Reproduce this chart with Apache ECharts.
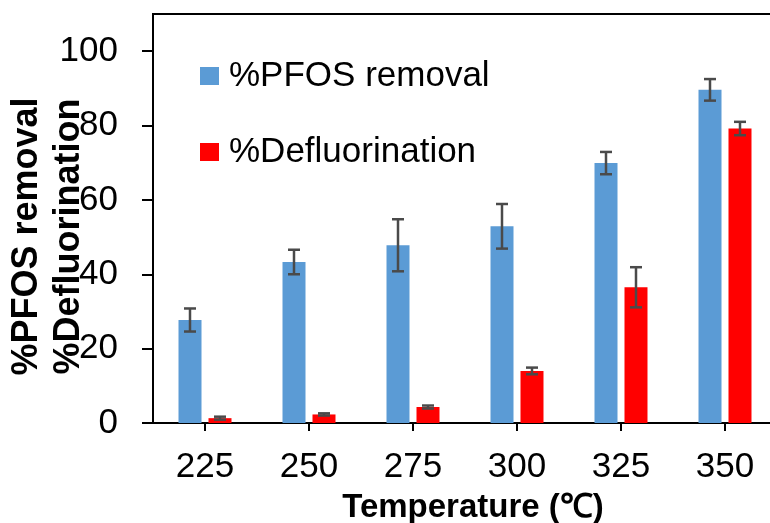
<!DOCTYPE html>
<html>
<head>
<meta charset="utf-8">
<script src="https://cdn.jsdelivr.net/npm/echarts@6/dist/echarts.min.js"></script>
<style>
  html, body { margin: 0; padding: 0; background: #fff; }
  #chart { width: 770px; height: 523px; }
</style>
</head>
<body>
<div id="chart"></div>
<script>
// Reaction temperatures (°C)
const temperatures = ['225', '250', '275', '300', '325', '350'];

// %PFOS removal: mean and standard deviation
const pfosRemoval = [27.7, 43.3, 47.8, 52.9, 69.9, 89.6];
const pfosRemovalErr = [3.1, 3.3, 7.0, 6.0, 3.0, 2.9];

// %Defluorination: mean and standard deviation
const defluorination = [1.3, 2.3, 4.3, 14.0, 36.5, 79.2];
const defluorinationErr = [0.4, 0.3, 0.4, 0.9, 5.4, 1.8];

// Y axis tick values
const yTicks = [0, 20, 40, 60, 80, 100];

const BAR_W = 23;
const BAR_GAP = 7;
const FONT = '"Liberation Sans", Arial, sans-serif';

function errorData(mean, err) {
  return mean.map((m, i) => [i, m - err[i], m + err[i]]);
}

function errorBarSeries(name, data, side) {
  return {
    type: 'custom',
    name: name,
    data: data,
    z: 10,
    silent: true,
    renderItem: function (params, api) {
      const idx = api.value(0);
      const lo = api.coord([idx, api.value(1)]);
      const hi = api.coord([idx, api.value(2)]);
      const x = lo[0] + side * (BAR_W + BAR_GAP) / 2;
      const cap = 6;
      const style = { stroke: '#4a4a4a', lineWidth: 2.5 };
      return {
        type: 'group',
        children: [
          { type: 'line', shape: { x1: x, y1: hi[1], x2: x, y2: lo[1] }, style: style },
          { type: 'line', shape: { x1: x - cap, y1: hi[1], x2: x + cap, y2: hi[1] }, style: style },
          { type: 'line', shape: { x1: x - cap, y1: lo[1], x2: x + cap, y2: lo[1] }, style: style }
        ]
      };
    }
  };
}

const chart = echarts.init(document.getElementById('chart'), null, { renderer: 'canvas' });

chart.setOption({
  animation: false,
  backgroundColor: '#ffffff',
  textStyle: { fontFamily: FONT },
  grid: {
    left: 153, top: 14, right: -7, bottom: 100,
    containLabel: false,
    outerBoundsMode: 'none',
    show: true, borderColor: '#000', borderWidth: 2, backgroundColor: 'transparent'
  },
  legend: {
    orient: 'vertical',
    left: 200,
    top: 56,
    padding: 0,
    itemWidth: 19,
    itemHeight: 18,
    itemGap: 36,
    icon: 'rect',
    textStyle: { fontSize: 35, color: '#000', fontFamily: FONT, lineHeight: 40, padding: [0, 0, 0, 5] },
    data: ['%PFOS removal', '%Defluorination']
  },
  xAxis: {
    type: 'category',
    data: temperatures,
    boundaryGap: true,
    name: 'Temperature (℃)',
    nameLocation: 'middle',
    nameGap: 68,
    nameMoveOverlap: false,
    nameTextStyle: { fontSize: 33, fontWeight: 'bold', color: '#000', fontFamily: FONT, padding: [0, 0, 0, 16] },
    axisLine: { show: true, lineStyle: { color: '#000', width: 2 } },
    axisTick: { show: true, alignWithLabel: true, length: 8, lineStyle: { color: '#000', width: 2 } },
    axisLabel: { fontSize: 35, color: '#000', margin: 27, fontFamily: FONT },
    splitLine: { show: false }
  },
  yAxis: {
    type: 'value',
    min: 0,
    max: 110,
    name: '%PFOS removal\n%Defluorination',
    nameLocation: 'middle',
    nameRotate: 90,
    nameGap: 63,
    nameMoveOverlap: false,
    nameTextStyle: {
      fontSize: 36, fontWeight: 'bold', color: '#000', fontFamily: FONT,
      lineHeight: 42, padding: [0, 36, 0, 0]
    },
    axisLine: { show: true, lineStyle: { color: '#000', width: 2 } },
    axisTick: { show: true, length: 11, customValues: yTicks, lineStyle: { color: '#000', width: 2 } },
    axisLabel: { fontSize: 35, color: '#000', margin: 35, customValues: yTicks, fontFamily: FONT },
    splitLine: { show: false }
  },
  series: [
    {
      name: '%PFOS removal',
      type: 'bar',
      data: pfosRemoval,
      barWidth: BAR_W,
      barGap: (BAR_GAP / BAR_W * 100).toFixed(1) + '%',
      itemStyle: { color: '#5B9BD5' }
    },
    {
      name: '%Defluorination',
      type: 'bar',
      data: defluorination,
      barWidth: BAR_W,
      barGap: (BAR_GAP / BAR_W * 100).toFixed(1) + '%',
      itemStyle: { color: '#FF0000' }
    },
    errorBarSeries('pfos-err', errorData(pfosRemoval, pfosRemovalErr), -1),
    errorBarSeries('defl-err', errorData(defluorination, defluorinationErr), 1)
  ]
});
</script>
</body>
</html>
